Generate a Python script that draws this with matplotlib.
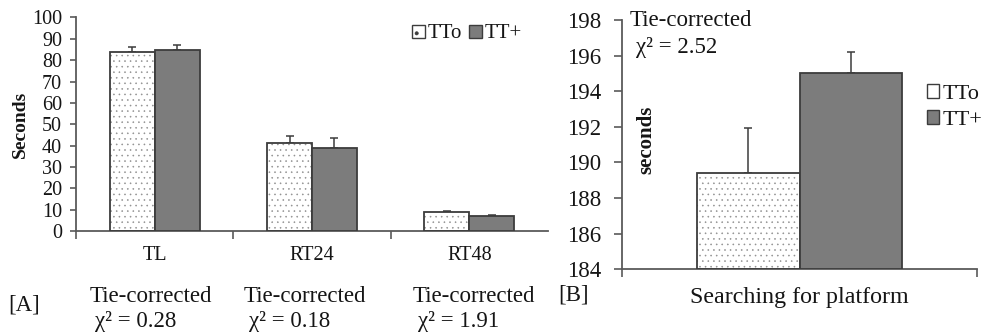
import matplotlib
matplotlib.use('Agg')
import matplotlib.pyplot as plt
from matplotlib.patches import Patch
import numpy as np

plt.rcParams['font.family'] = ['Liberation Serif', 'DejaVu Serif']
plt.rcParams['hatch.linewidth'] = 0.4

# panel A data
cats = ['TL', 'RT24', 'RT48']
tto = [84, 41, 8.7]
tto_err = [2, 3.4, 0.5]
ttp = [85, 39, 7.2]
ttp_err = [2, 4.6, 0.5]
chi_a = ['0.28', '0.18', '1.91']

# panel B data
b_cat = 'Searching for platform'
b_tto, b_tto_err = 189.4, 2.55
b_ttp, b_ttp_err = 195.0, 1.2
chi_b = '2.52'

series = ['TTo', 'TT+']
axis_col = '#5a5a5a'
edge_col = '#3c3c3c'
gray = '#7c7c7c'
txt_col = '#151515'

W, H = 989, 334
fig = plt.figure(figsize=(W / 100, H / 100), dpi=100)

def fx(px):
    return px / W

def fy(py):
    return 1 - py / H

def style_axes(ax, fs, tlen, pad):
    for s in ['top', 'right']:
        ax.spines[s].set_visible(False)
    for s in ['left', 'bottom']:
        ax.spines[s].set_color(axis_col)
        ax.spines[s].set_linewidth(1.3)
    ax.tick_params(axis='y', direction='out', length=tlen, width=1.2, color=axis_col,
                   labelsize=fs, labelcolor=txt_col, pad=pad)

def draw_bars(ax, x, h, err, width, kind, base=0):
    if kind == 0:
        # dotted white bar: gray dots then a dark outline
        ax.bar(x, h, width, bottom=base, color='white', edgecolor='#909090', hatch='...',
               linewidth=0, align='edge', zorder=2)
        ax.bar(x, h, width, bottom=base, fill=False, edgecolor=edge_col, linewidth=1.3,
               align='edge', zorder=3)
    else:
        ax.bar(x, h, width, bottom=base, color=gray, edgecolor=edge_col, linewidth=1.3,
               align='edge', zorder=3)
    xc = np.asarray(x) + width / 2
    tops = np.asarray(h) + base
    ax.errorbar(xc, tops, yerr=[np.zeros_like(np.asarray(err, dtype=float)), err],
                fmt='none', ecolor=edge_col, elinewidth=1.1, capsize=3, capthick=1.1, zorder=1)

# ---------- panel A ----------
axA = fig.add_axes([fx(76), fy(231), fx(548) - fx(76), fy(17.5) - fy(231)])
style_axes(axA, 14.5, 4, 6)
bw = 0.286
centers = np.arange(len(cats)) + 0.5
draw_bars(axA, centers - bw, tto, tto_err, bw, 0)
draw_bars(axA, centers, ttp, ttp_err, bw, 1)
axA.set_xlim(0, 3)
axA.set_ylim(0, 100)
axA.set_yticks(range(0, 101, 10))
axA.set_xticks(centers, cats, fontsize=14.5, color=txt_col)
axA.set_xticks([0, 1, 2], minor=True)
axA.tick_params(axis='x', which='major', length=0, pad=11)
axA.tick_params(axis='x', which='minor', length=6, width=1.2, color=axis_col, direction='out')
axA.set_ylabel('Seconds', fontsize=14, fontweight='bold', color=txt_col, labelpad=2)

hA = [Patch(facecolor='white', edgecolor=edge_col, hatch='.', linewidth=1),
      Patch(facecolor=gray, edgecolor=edge_col, linewidth=1)]
fig.legend(hA, series, loc='center left', bbox_to_anchor=(fx(412), fy(34)), ncol=2,
           frameon=False, fontsize=15, handlelength=0.6, handleheight=0.6,
           handletextpad=0.15, columnspacing=0.35, borderpad=0, borderaxespad=0,
           labelcolor=txt_col)

lefts = [90, 244, 413]
for lx, c in zip(lefts, chi_a):
    fig.text(fx(lx), fy(296), 'Tie-corrected', fontsize=16.5, color=txt_col,
             ha='left', va='center')
    fig.text(fx(lx + 5), fy(322), 'χ² = ' + c, fontsize=16.5, color=txt_col,
             ha='left', va='center')
fig.text(fx(8), fy(305), '[A]', fontsize=16.5, color=txt_col, ha='left', va='center')

# ---------- panel B ----------
axB = fig.add_axes([fx(622), fy(269.3), fx(977) - fx(622), fy(20) - fy(269.3)])
style_axes(axB, 16.5, 6, 9)
bwb = 0.29
draw_bars(axB, [0.5 - bwb], [b_tto - 184], [b_tto_err], bwb, 0, base=184)
draw_bars(axB, [0.5], [b_ttp - 184], [b_ttp_err], bwb, 1, base=184)
axB.set_xlim(0, 1)
axB.set_ylim(184, 198)
axB.set_yticks(np.arange(184, 199, 2))
axB.set_xticks([0, 1], ['', ''])
axB.tick_params(axis='x', length=6, width=1.2, color=axis_col, direction='out')
axB.set_xlabel(b_cat, fontsize=17.3, color=txt_col, labelpad=3)
fig.text(fx(646), fy(140), 'seconds', fontsize=15, fontweight='bold', color=txt_col,
         rotation=90, ha='center', va='center')
fig.text(fx(630), fy(21), 'Tie-corrected', fontsize=16.5, color=txt_col,
         ha='left', va='center')
fig.text(fx(636), fy(48), 'χ² = ' + chi_b, fontsize=16.5, color=txt_col,
         ha='left', va='center')
fig.legend(hA, series, loc='center left', bbox_to_anchor=(fx(927), fy(107)), ncol=1,
           frameon=False, fontsize=16, handlelength=0.55, handleheight=0.55,
           handletextpad=0.15, labelspacing=0.3, borderpad=0, borderaxespad=0,
           labelcolor=txt_col)
fig.text(fx(558), fy(295), '[B]', fontsize=16.5, color=txt_col, ha='left', va='center')

fig.savefig('out.png', dpi=100)
